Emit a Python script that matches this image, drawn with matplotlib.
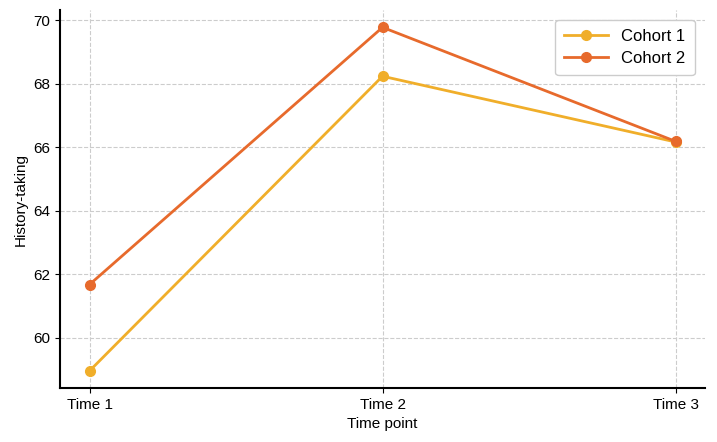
import matplotlib
matplotlib.use("Agg")
import matplotlib.pyplot as plt

plt.rcParams['font.family'] = ['Liberation Sans', 'DejaVu Sans']

time_points = ["Time 1", "Time 2", "Time 3"]
cohort1 = [58.96, 68.24, 66.17]
cohort2 = [61.68, 69.78, 66.19]

fig = plt.figure(figsize=(7.17, 4.42), dpi=100)
ax = fig.add_axes([0.084, 0.122, 0.899, 0.855])

x = list(range(len(time_points)))
ax.plot(x, cohort1, color='#F0AE2A', marker='o', markersize=7, linewidth=2, label='Cohort 1')
ax.plot(x, cohort2, color='#E76A2C', marker='o', markersize=7, linewidth=2, label='Cohort 2')

ax.set_xticks(x)
ax.set_xticklabels(time_points)
ax.set_yticks([60, 62, 64, 66, 68, 70])
ax.tick_params(labelsize=11)
ax.set_xlabel('Time point', fontsize=11)
ax.set_ylabel('History-taking', fontsize=11)
ax.grid(True, linestyle='--', color='#cccccc', linewidth=0.8)
ax.set_axisbelow(True)
ax.spines['top'].set_visible(False)
ax.spines['right'].set_visible(False)
ax.spines['left'].set_linewidth(1.5)
ax.spines['bottom'].set_linewidth(1.5)
ax.legend(loc='upper right', fontsize=12, framealpha=1, edgecolor='#cccccc',
          handlelength=2.6, labelspacing=0.45, borderpad=0.55,
          bbox_to_anchor=(0.997, 0.997))

fig.savefig('out.png', dpi=100)
